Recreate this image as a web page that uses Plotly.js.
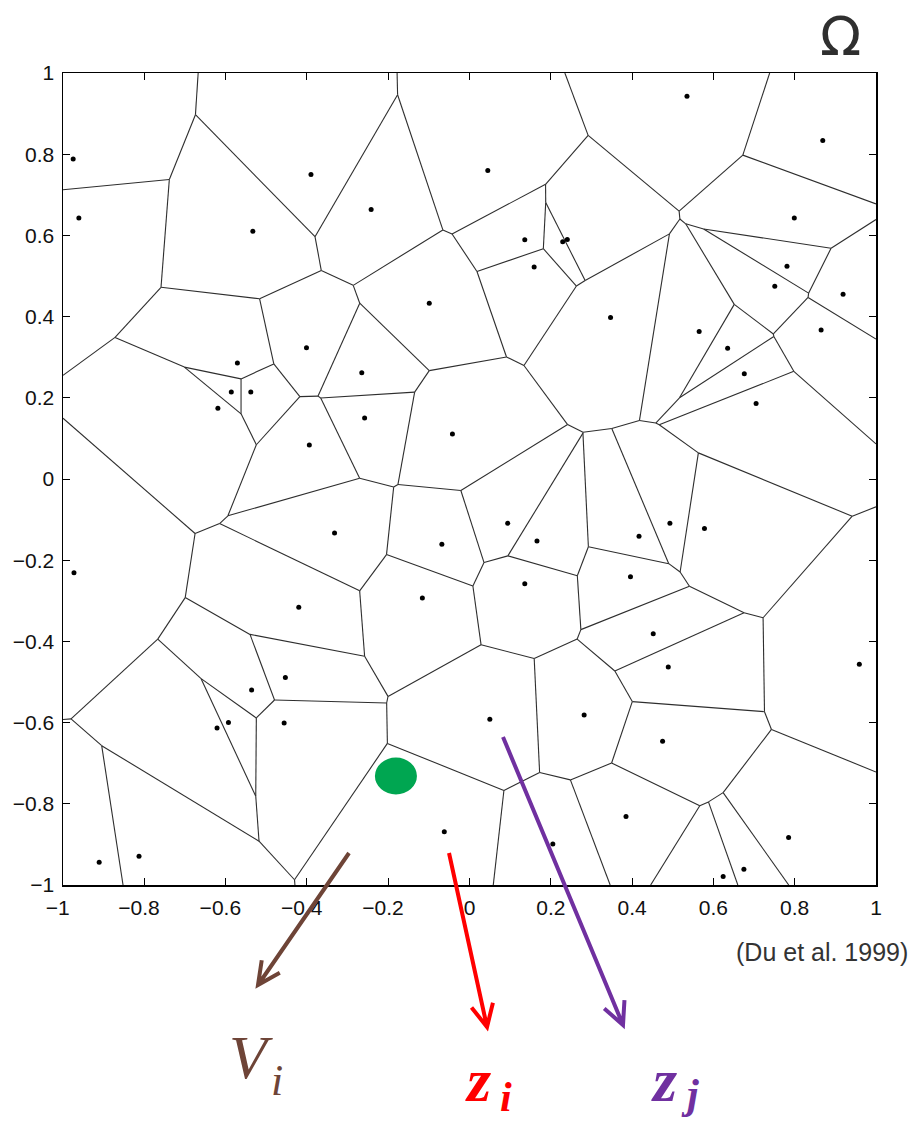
<!DOCTYPE html>
<html>
<head>
<meta charset="utf-8">
<script src="https://cdn.plot.ly/plotly-3.0.1.min.js"></script>
<style>
  html, body { margin: 0; padding: 0; background: #ffffff; }
  #chart { width: 912px; height: 1121px; }
</style>
</head>
<body>
<div id="chart"></div>
<script>
// Generators of the Voronoi tessellation on the square [-1,1] x [-1,1]
const genX = [
  -0.975, -0.961, -0.390, -0.533, -0.401, 0.045, -0.242, 0.136, 0.2293, 0.2406,
  0.159, -0.099, 0.347, 0.535, 0.869, 0.799, 0.781, 0.751, 0.919, 0.565,
  0.865, 0.635, -0.571, -0.586, -0.538, -0.619, -0.394, -0.332, -0.973, -0.420,
  -0.265, -0.258, -0.042, 0.094, 0.166, -0.068, 0.136, -0.116, 0.676, 0.705,
  0.493, 0.578, 0.417, 0.396, -0.453, -0.536, -0.593, -0.621, -0.456, -0.911,
  -0.813, 0.050, 0.282, -0.062, 0.205, 0.452, 0.489, 0.959, 0.475, 0.385,
  0.785, 0.675, 0.624
];
const genY = [
  0.788, 0.643, 0.750, 0.610, 0.323, 0.760, 0.664, 0.589, 0.5842, 0.5899,
  0.522, 0.433, 0.398, 0.943, 0.834, 0.643, 0.524, 0.475, 0.455, 0.363,
  0.367, 0.322, 0.286, 0.214, 0.214, 0.174, 0.084, -0.133, -0.231, -0.316,
  0.262, 0.150, 0.111, -0.109, -0.153, -0.161, -0.258, -0.293, 0.259, 0.186,
  -0.109, -0.122, -0.141, -0.241, -0.489, -0.520, -0.600, -0.613, -0.601, -0.944,
  -0.929, -0.592, -0.581, -0.869, -0.899, -0.381, -0.463, -0.456, -0.646, -0.831,
  -0.883, -0.961, -0.979
];

// Axis ticks
const tickVals = [-1, -0.8, -0.6, -0.4, -0.2, 0, 0.2, 0.4, 0.6, 0.8, 1];
const tickText = ['\u22121', '\u22120.8', '\u22120.6', '\u22120.4', '\u22120.2', '0', '0.2', '0.4', '0.6', '0.8', '1'];
// x labels keep the digits centred on the tick: a trailing en space balances the minus sign
const xTickText = tickText.map(t => t.charAt(0) === '\u2212' ? t + '\u2002' : t);

// Highlighted point inside one cell (centre and half-axes, data units)
const spotCenter = [-0.181, -0.7315];
const spotRadii = [0.0517, 0.0456];

// Pointer arrows: start and tip in data units (they run below the axis)
const arrowNames = ['Vi', 'zi', 'zj'];
const arrowStartX = [-0.2964, -0.0504, 0.0824];
const arrowStartY = [-0.9212, -0.9212, -0.6355];
const arrowTipX = [-0.5203, 0.0431, 0.3776];
const arrowTipY = [-1.2463, -1.3498, -1.3448];
const arrowColors = ['#6e4437', '#ff0000', '#7030a0'];

// ---- Voronoi cells by half-plane clipping of the square ----
function clipPoly(poly, a, b, c) {
  const out = [];
  for (let k = 0; k < poly.length; k++) {
    const P = poly[k], Q = poly[(k + 1) % poly.length];
    const fp = a * P[0] + b * P[1] - c;
    const fq = a * Q[0] + b * Q[1] - c;
    if (fp <= 0) out.push(P);
    if ((fp <= 0) !== (fq <= 0)) {
      const t = fp / (fp - fq);
      out.push([P[0] + t * (Q[0] - P[0]), P[1] + t * (Q[1] - P[1])]);
    }
  }
  return out;
}

const n = genX.length;
const cells = [];
for (let i = 0; i < n; i++) {
  let poly = [[-1, -1], [1, -1], [1, 1], [-1, 1]];
  const px = genX[i], py = genY[i];
  for (let j = 0; j < n; j++) {
    if (j === i) continue;
    const qx = genX[j], qy = genY[j];
    const a = qx - px, b = qy - py;
    const c = (qx * qx + qy * qy - px * px - py * py) / 2;
    poly = clipPoly(poly, a, b, c);
    if (poly.length === 0) break;
  }
  cells.push(poly);
}

// Collect each interior edge once
const edgeX = [], edgeY = [];
const eps = 1e-9;
function onBorder(P, Q) {
  return (Math.abs(P[0] - Q[0]) < eps && Math.abs(Math.abs(P[0]) - 1) < eps) ||
         (Math.abs(P[1] - Q[1]) < eps && Math.abs(Math.abs(P[1]) - 1) < eps);
}
for (let i = 0; i < n; i++) {
  const poly = cells[i];
  for (let k = 0; k < poly.length; k++) {
    const P = poly[k], Q = poly[(k + 1) % poly.length];
    if (onBorder(P, Q)) continue;
    if (Math.hypot(P[0] - Q[0], P[1] - Q[1]) < 1e-12) continue;
    const mx = (P[0] + Q[0]) / 2, my = (P[1] + Q[1]) / 2;
    const di = Math.hypot(mx - genX[i], my - genY[i]);
    let best = -1, bestGap = Infinity;
    for (let j = 0; j < n; j++) {
      if (j === i) continue;
      const gap = Math.abs(Math.hypot(mx - genX[j], my - genY[j]) - di);
      if (gap < bestGap) { bestGap = gap; best = j; }
    }
    if (best > i) {
      edgeX.push(P[0], Q[0], null);
      edgeY.push(P[1], Q[1], null);
    }
  }
}

// ---- Layout geometry ----
const W = 912, H = 1121;
const M = { l: 63, r: 36, t: 73, b: 236 };
const plotW = W - M.l - M.r, plotH = H - M.t - M.b;

// data -> pixel and pixel -> paper helpers for shapes outside the plot area
function toPx(x, y) { return [M.l + (x + 1) / 2 * plotW, M.t + (1 - y) / 2 * plotH]; }
function pxToPaper(p) { return [(p[0] - M.l) / plotW, (H - M.b - p[1]) / plotH]; }

const shapes = [];
shapes.push({
  type: 'circle', xref: 'x', yref: 'y',
  x0: spotCenter[0] - spotRadii[0], x1: spotCenter[0] + spotRadii[0],
  y0: spotCenter[1] - spotRadii[1], y1: spotCenter[1] + spotRadii[1],
  fillcolor: '#00a651', line: { width: 0 }, layer: 'above'
});

for (let k = 0; k < arrowNames.length; k++) {
  const s = toPx(arrowStartX[k], arrowStartY[k]);
  const t = toPx(arrowTipX[k], arrowTipY[k]);
  const dx = s[0] - t[0], dy = s[1] - t[1];
  const len = Math.hypot(dx, dy);
  const ux = dx / len, uy = dy / len;
  const ang = 26 * Math.PI / 180, armLen = 25;
  const arm = (sgn) => [t[0] + armLen * (ux * Math.cos(ang) - sgn * uy * Math.sin(ang)),
                        t[1] + armLen * (uy * Math.cos(ang) + sgn * ux * Math.sin(ang))];
  const a1 = pxToPaper(arm(1)), a2 = pxToPaper(arm(-1));
  const sp = pxToPaper(s), tp = pxToPaper(t);
  const path = `M ${sp[0]} ${sp[1]} L ${tp[0]} ${tp[1]} M ${a1[0]} ${a1[1]} L ${tp[0]} ${tp[1]} L ${a2[0]} ${a2[1]}`;
  shapes.push({
    type: 'path', xref: 'paper', yref: 'paper', path: path,
    line: { color: arrowColors[k], width: 4 }, layer: 'above'
  });
}

function paperAt(px, py) { return pxToPaper([px, py]); }
function label(text, px, py, size, color, family, extra) {
  const p = paperAt(px, py);
  return Object.assign({
    text: text, xref: 'paper', yref: 'paper', x: p[0], y: p[1],
    xanchor: 'center', yanchor: 'middle', showarrow: false,
    font: { size: size, color: color, family: family }
  }, extra || {});
}
const serif = 'Liberation Serif, DejaVu Serif, serif';
const annotations = [
  label('\u03a9', 840, 37, 54, '#2f2f2f', 'DejaVu Sans, Noto Sans, sans-serif'),
  label('(Du et al. 1999)', 910, 952, 25, '#333333', 'Liberation Sans, Arial, sans-serif', { xanchor: 'right' }),
  label('<i>V</i>', 251, 1057, 62, '#6e4437', serif),
  label('<i>i</i>', 277, 1080, 44, '#6e4437', serif),
  label('<b><i>z</i></b>', 478, 1080, 62, '#ff0000', serif),
  label('<b><i>i</i></b>', 506, 1097, 42, '#ff0000', serif),
  label('<b><i>z</i></b>', 664, 1080, 62, '#7030a0', serif),
  label('<b><i>j</i></b>', 690, 1094, 42, '#7030a0', serif)
];

const axisCommon = {
  range: [-1, 1], tickmode: 'array', tickvals: tickVals,
  ticks: 'inside', ticklen: 7, tickwidth: 1, tickcolor: '#000',
  showline: true, linecolor: '#000', linewidth: 1.5, mirror: 'ticks',
  showgrid: false, zeroline: false, fixedrange: true,
  tickfont: { family: 'Liberation Sans, Arial, sans-serif', size: 21, color: '#111' }
};

const traces = [
  {
    x: edgeX, y: edgeY, type: 'scatter', mode: 'lines',
    line: { color: '#2e2e2e', width: 1.1 }, hoverinfo: 'skip', cliponaxis: true
  },
  {
    x: genX, y: genY, type: 'scatter', mode: 'markers',
    marker: { color: '#000', size: 5 }, hoverinfo: 'skip'
  }
];

const layout = {
  width: W, height: H, margin: M,
  paper_bgcolor: '#ffffff', plot_bgcolor: '#ffffff',
  showlegend: false,
  xaxis: Object.assign({}, axisCommon, { ticktext: xTickText, ticklabelstandoff: 3 }),
  yaxis: Object.assign({}, axisCommon, { ticktext: tickText, ticklabelstandoff: 3 }),
  shapes: shapes,
  annotations: annotations
};

Plotly.newPlot('chart', traces, layout, { staticPlot: true, displayModeBar: false });
</script>
</body>
</html>
